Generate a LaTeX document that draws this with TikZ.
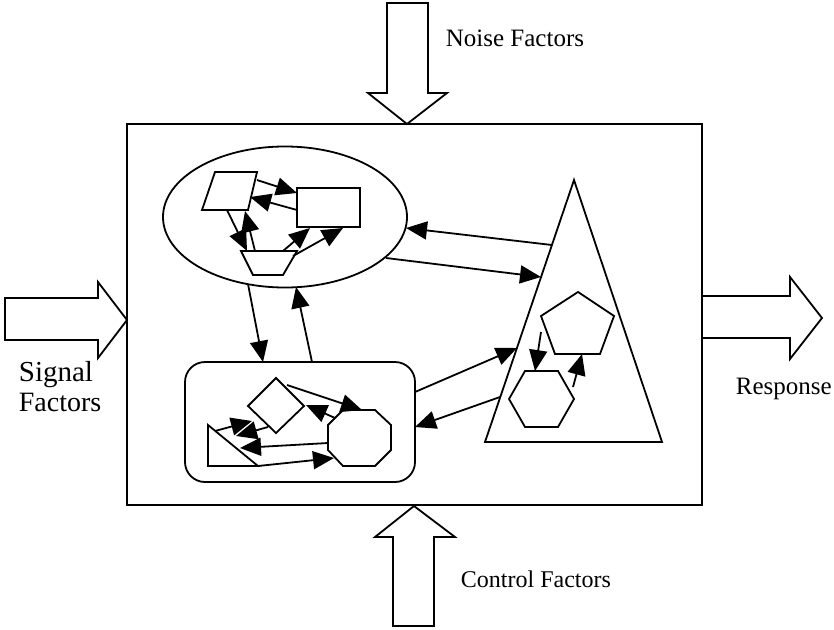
\documentclass[tikz,border=0pt]{standalone}
\usepackage{fontspec}
\setmainfont{Liberation Serif}
\usetikzlibrary{arrows.meta,shapes.geometric}
\begin{document}
\begin{tikzpicture}[x=1pt,y=-1pt,line width=1.8pt,line join=miter,
  conn/.style={-{Triangle[length=21pt,width=18pt]}},
  bigarrow/.style={draw,fill=white,line width=1.8pt},
  lbl/.style={inner sep=0pt,anchor=base west}]
\useasboundingbox (0,0) rectangle (834,629);
% big arrows
\draw[bigarrow] (387,3) -- (428,3) -- (428,93) -- (447,93) -- (407,124) -- (368,93) -- (387,93) -- cycle;
\draw[bigarrow] (5,298) -- (98,298) -- (98,282) -- (127,320) -- (98,358) -- (98,340) -- (5,340) -- cycle;
\draw[bigarrow] (702,296) -- (790,296) -- (790,277) -- (822,318) -- (790,359) -- (790,338) -- (702,338) -- cycle;
\draw[bigarrow] (414,506) -- (455,537) -- (434,537) -- (434,626) -- (393,626) -- (393,537) -- (375,537) -- cycle;
% main box
\node[draw,minimum width=575pt,minimum height=381pt,inner sep=0pt] (box) at (414.5,314.5) {};
% labels
\node[lbl,font=\fontsize{25}{30}\selectfont] (noise) at (445,46) {Noise Factors};
\node[lbl,font=\fontsize{29}{34}\selectfont] (sig) at (18,381) {Signal};
\node[lbl,font=\fontsize{28}{34}\selectfont] (sigf) at (18,411) {Factors};
\node[lbl,font=\fontsize{25}{30}\selectfont] (resp) at (735,394) {Response};
\node[lbl,font=\fontsize{24}{30}\selectfont] (ctrl) at (460,587) {Control Factors};
% containers
\node[draw,ellipse,minimum width=244pt,minimum height=141pt,inner sep=0pt] (ell) at (285,217) {};
\node[draw,rounded corners=20pt,minimum width=230pt,minimum height=120pt,inner sep=0pt] (rr) at (300,422) {};
\draw (574,180) -- (662,442) -- (485,442) -- cycle;
% shapes in ellipse
\draw (215,172) -- (257,172) -- (248,210) -- (202,210) -- cycle;
\draw (297,188) rectangle (360,227);
\draw (241,251) -- (297,251) -- (283,275) -- (253,275) -- cycle;
% shapes in triangle
\draw (578,292) -- (614,316) -- (600,354) -- (555,354) -- (541,316) -- cycle;
\draw (525,371) -- (558,371) -- (574,399) -- (558,427) -- (525,427) -- (509,399) -- cycle;
% shapes in rounded rectangle
\draw (276,378) -- (304,406) -- (276,433) -- (248,406) -- cycle;
\draw (343,410) -- (375,410) -- (391,425) -- (391,450) -- (375,466) -- (343,466) -- (328,450) -- (328,425) -- cycle;
\draw (208,425) -- (208,466) -- (258,466) -- cycle;
% coordinates
\coordinate (e1) at (248,284);
\coordinate (r1) at (263,362);
\coordinate (r2) at (312,362);
\coordinate (e2) at (296,287);
\coordinate (t1) at (552,245);
\coordinate (e3) at (406,228);
\coordinate (e4) at (386,258);
\coordinate (t2) at (541,277);
\coordinate (r3) at (415,392);
\coordinate (t3) at (517,348);
\coordinate (t4) at (500,397);
\coordinate (r4) at (415,427);
% connectors between containers
\draw[conn] (e1) -- (r1);
\draw[conn] (r2) -- (e2);
\draw[conn] (t1) -- (e3);
\draw[conn] (e4) -- (t2);
\draw[conn] (r3) -- (t3);
\draw[conn] (t4) -- (r4);
% ellipse cluster connectors
\coordinate (p1) at (257,180); \coordinate (q1) at (297,193);
\coordinate (q2) at (297,210); \coordinate (p2) at (250,197);
\coordinate (p3) at (227,210); \coordinate (z1) at (247,251);
\coordinate (z2) at (255,251); \coordinate (p4) at (245,211);
\coordinate (z3) at (283,251); \coordinate (q3) at (310,228);
\coordinate (z4) at (293,256); \coordinate (q4) at (343,228);
\draw[conn] (p1) -- (q1);
\draw[conn] (q2) -- (p2);
\draw[conn] (p3) -- (z1);
\draw[conn] (z2) -- (p4);
\draw[conn] (z3) -- (q3);
\draw[conn] (z4) -- (q4);
% triangle cluster connectors
\coordinate (pa) at (541,332); \coordinate (ha) at (535,371);
\coordinate (hb) at (573,387); \coordinate (pb) at (582,354);
\draw[conn] (pa) -- (ha);
\draw[conn] (hb) -- (pb);
% rounded rectangle cluster connectors
\coordinate (d1) at (287,385); \coordinate (o1) at (362,410);
\coordinate (o2) at (335,418); \coordinate (d2) at (306,405);
\coordinate (o3) at (328,443); \coordinate (g1) at (240,448);
\coordinate (g2) at (258,466); \coordinate (o4) at (334,458);
\coordinate (g3) at (215,431); \coordinate (d3) at (252,421);
\coordinate (d4) at (268,427); \coordinate (g4) at (236,436);
\draw[conn] (d1) -- (o1);
\draw[conn] (o2) -- (d2);
\draw[conn] (o3) -- (g1);
\draw[conn] (g2) -- (o4);
\draw[conn] (g3) -- (d3);
\draw[conn] (d4) -- (g4);
\end{tikzpicture}
\end{document}
